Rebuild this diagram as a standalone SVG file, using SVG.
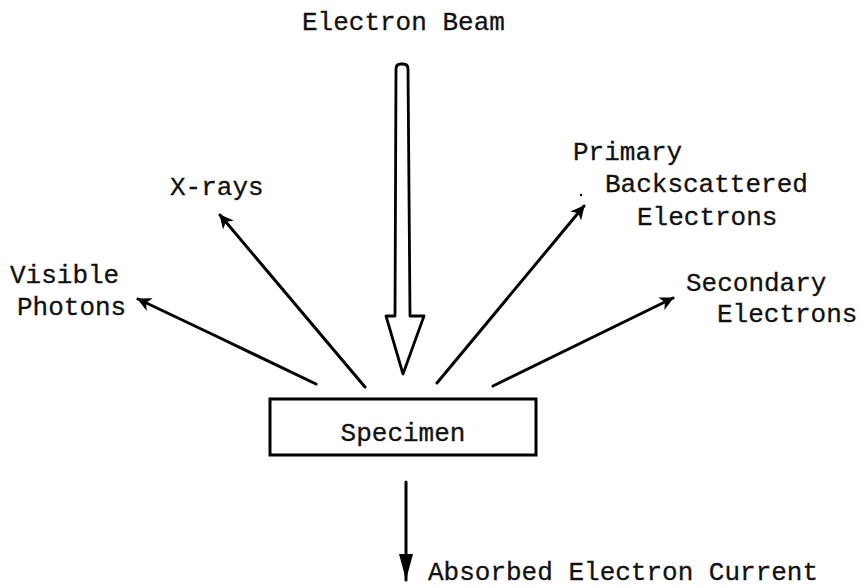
<svg xmlns="http://www.w3.org/2000/svg" width="860" height="588" viewBox="0 0 860 588">
<style>
text{font-family:"Liberation Mono","Courier New",monospace;font-size:26px;fill:#111;stroke:#111;stroke-width:0.3}
.ln{stroke:#000;stroke-width:3;fill:none;stroke-linecap:round}
</style>
<defs>
<marker id="ah" viewBox="-16 -8 18 16" refX="0" refY="0" markerWidth="18" markerHeight="16" markerUnits="userSpaceOnUse" orient="auto">
<path d="M1,0 L-13,-7 L-9,0 L-13,7 Z" fill="#000"/>
</marker>
<marker id="dh" viewBox="-28 -8 30 16" refX="0" refY="0" markerWidth="30" markerHeight="16" markerUnits="userSpaceOnUse" orient="auto">
<path d="M0,0 L-26,-7 L-26,7 Z" fill="#000"/>
</marker>
</defs>
<rect width="860" height="588" fill="#fff"/>
<g id="beam">
<path d="M396,69 Q396,64 401,64 L403,64 Q408,64 408,69 L410,316 L424,316 L403,374 L386,316 L395,316 Z" fill="#fff" stroke="#000" stroke-width="2.8" stroke-linejoin="round"/>
<text x="302" y="30">Electron Beam</text>
</g>
<g id="specimen">
<rect x="270" y="399" width="266" height="56" fill="#fff" stroke="#000" stroke-width="3"/>
<text x="403" y="441" text-anchor="middle">Specimen</text>
</g>
<g id="connectors">
<path class="ln" d="M316,384 L218,337 L138,299" marker-end="url(#ah)"/>
<path class="ln" d="M365,387 L220,215" marker-end="url(#ah)"/>
<path class="ln" d="M437,383 L584,206" marker-end="url(#ah)"/>
<path class="ln" d="M493,386 L673,298" marker-end="url(#ah)"/>
<path class="ln" d="M406,482 L406,580" marker-end="url(#dh)"/>
</g>
<g id="xrays"><text x="170" y="195">X-rays</text></g>
<g id="photons"><text x="10" y="283">Visible</text><text x="17" y="315">Photons</text></g>
<g id="backscattered"><circle cx="581" cy="195" r="1.2" fill="#000"/><text x="573" y="160">Primary</text><text x="605" y="192">Backscattered</text><text x="637" y="225">Electrons</text></g>
<g id="secondary"><text x="686" y="291">Secondary</text><text x="717" y="322">Electrons</text></g>
<g id="absorbed"><text x="428" y="580">Absorbed Electron Current</text></g>
</svg>
